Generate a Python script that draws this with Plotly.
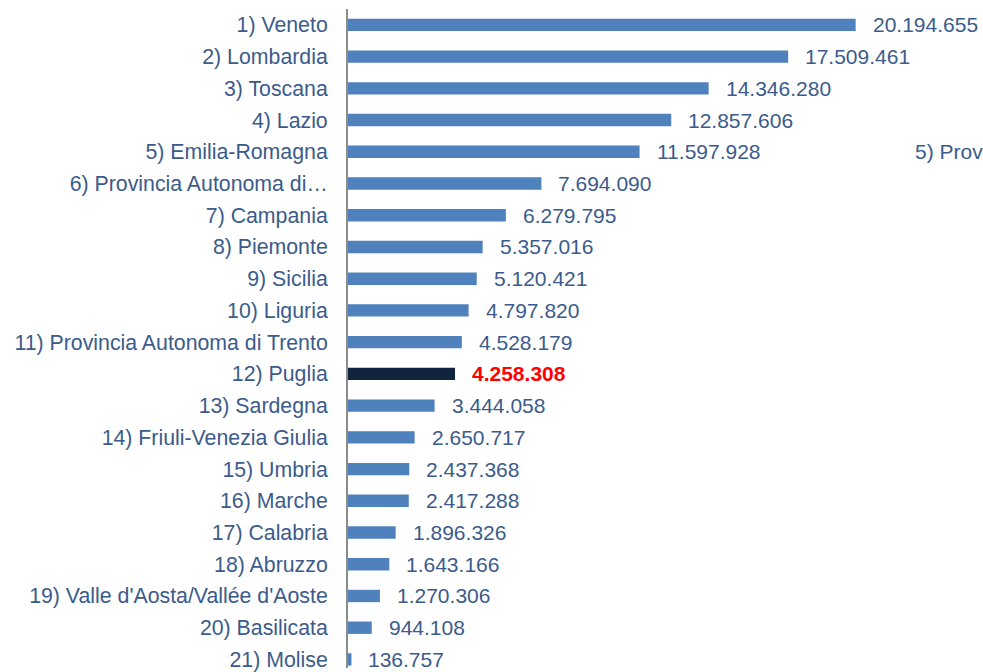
import plotly.graph_objects as go

categories = [
    "1) Veneto", "2) Lombardia", "3) Toscana", "4) Lazio", "5) Emilia-Romagna",
    "6) Provincia Autonoma di…", "7) Campania", "8) Piemonte", "9) Sicilia",
    "10) Liguria", "11) Provincia Autonoma di Trento", "12) Puglia", "13) Sardegna",
    "14) Friuli-Venezia Giulia", "15) Umbria", "16) Marche", "17) Calabria",
    "18) Abruzzo", "19) Valle d'Aosta/Vallée d'Aoste", "20) Basilicata", "21) Molise",
]
values = [
    20194655, 17509461, 14346280, 12857606, 11597928, 7694090, 6279795, 5357016,
    5120421, 4797820, 4528179, 4258308, 3444058, 2650717, 2437368, 2417288,
    1896326, 1643166, 1270306, 944108, 136757,
]
highlight = "12) Puglia"
stray_label = "5) Prov"
stray_row = "5) Emilia-Romagna"

TEXT = "#3B5B8C"
BAR = "#4F81BD"
DARK = "#10243F"
FONT = "Liberation Sans, Arial, sans-serif"


def fmt(v):
    return f"{v:,}".replace(",", ".")


colors = [DARK if c == highlight else BAR for c in categories]

fig = go.Figure(go.Bar(
    x=values, y=categories, orientation="h",
    marker=dict(color=colors, line=dict(width=0)),
    hoverinfo="skip",
))

annotations = []
for c, v in zip(categories, values):
    hl = c == highlight
    annotations.append(dict(
        x=v, y=c, xref="x", yref="y", text=fmt(v), showarrow=False,
        xanchor="left", yanchor="middle", xshift=15,
        font=dict(family=FONT, size=21,
                  color="#FF0000" if hl else TEXT,
                  weight="bold" if hl else "normal"),
    ))
annotations.append(dict(
    x=(913 - 348) / 635, y=stray_row, xref="paper", yref="y", text=stray_label,
    showarrow=False, xanchor="left", yanchor="middle",
    font=dict(family=FONT, size=21, color=TEXT),
))

fig.update_layout(
    width=983, height=672,
    margin=dict(l=348, r=0, t=9, b=0),
    paper_bgcolor="white", plot_bgcolor="white",
    bargap=0.61, showlegend=False,
    annotations=annotations,
    font=dict(family=FONT, size=21, color=TEXT),
    xaxis=dict(range=[0, 25.26e6], visible=False, fixedrange=True),
    yaxis=dict(
        range=[20.27, -0.5], showline=True, linecolor="#8C8C8C", linewidth=2,
        showgrid=False, zeroline=False, ticks="", ticklabelstandoff=14,
        tickfont=dict(size=21.3, color=TEXT), fixedrange=True,
    ),
)

fig.write_html(
    "out.html",
    config={"displayModeBar": False},
    post_script="document.body.style.margin='0';document.body.style.overflow='hidden';",
)
